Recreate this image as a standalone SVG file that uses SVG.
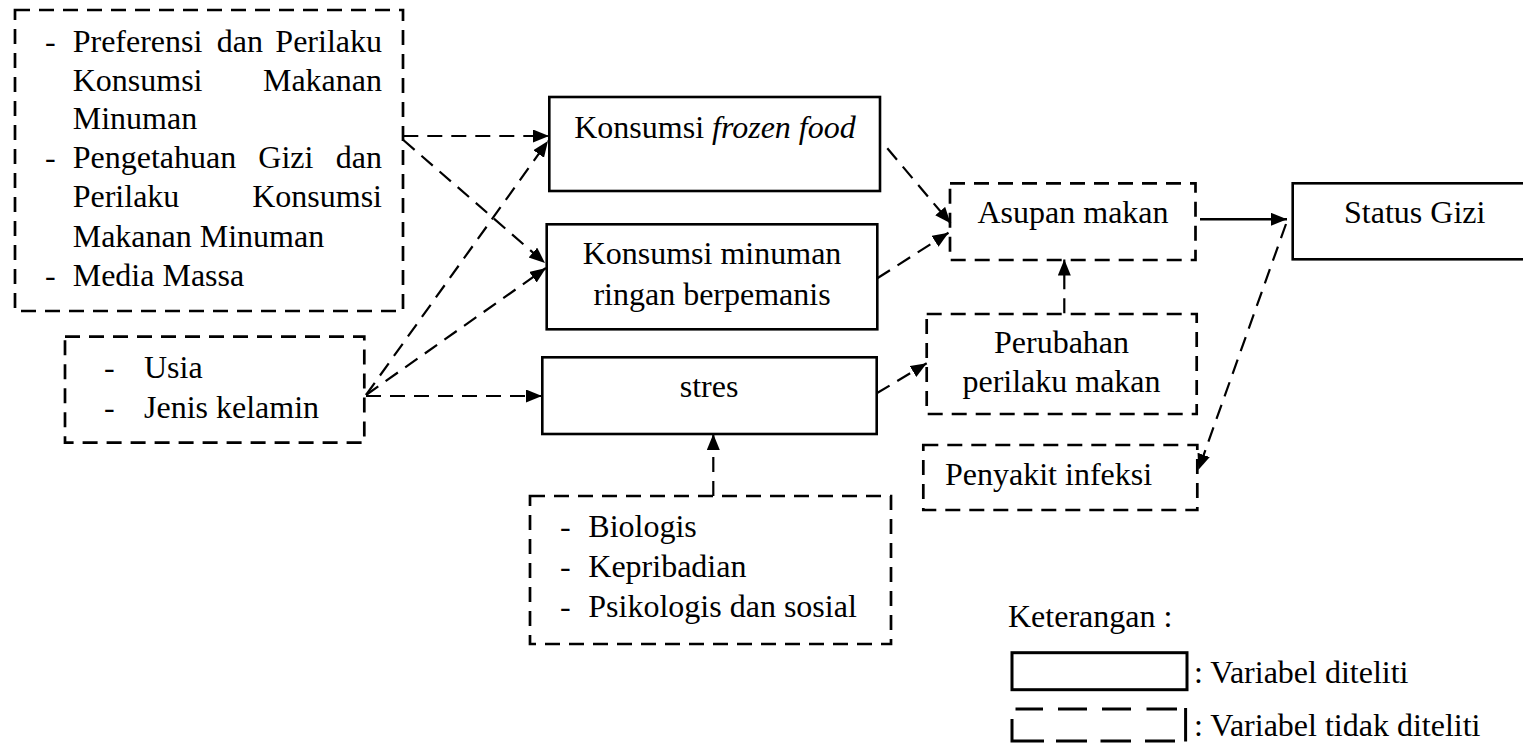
<svg xmlns="http://www.w3.org/2000/svg" width="1523" height="744" viewBox="0 0 1523 744">
<defs>
<style>
text{font-family:"Liberation Serif","Times New Roman",serif;font-size:32px;fill:#000}
.solid{fill:#fff;stroke:#000;stroke-width:2.6}
.dash{fill:#fff;stroke:#000;stroke-width:2.7;stroke-dasharray:15 9}
.c{fill:none;stroke:#000;stroke-width:2.2;stroke-dasharray:15 9}
.cs{fill:none;stroke:#000;stroke-width:2.4}
.m{text-anchor:middle}
.e{text-anchor:end}
</style>
<marker id="ah" markerUnits="userSpaceOnUse" markerWidth="17" markerHeight="14" refX="16" refY="6.5" orient="auto">
<path d="M0,0 L16,6.5 L0,13 z" fill="#000" stroke="none"/>
</marker>
</defs>

<g id="n-faktor">
<rect class="dash" x="15" y="10" width="388" height="301"/>
<text x="45" y="51.7">-</text><text x="72.7" y="51.7">Preferensi</text><text x="216.7" y="51.7">dan</text><text class="e" x="382" y="51.7">Perilaku</text>
<text x="72.7" y="90.7">Konsumsi</text><text class="e" x="382" y="90.7">Makanan</text>
<text x="72.7" y="129.3">Minuman</text>
<text x="45" y="168.3">-</text><text x="72.7" y="168.3">Pengetahuan</text><text x="258.3" y="168.3">Gizi</text><text class="e" x="382" y="168.3">dan</text>
<text x="72.7" y="207.3">Perilaku</text><text class="e" x="382" y="207.3">Konsumsi</text>
<text x="72.7" y="246.7">Makanan Minuman</text>
<text x="45" y="285.7">-</text><text x="72.7" y="285.7">Media Massa</text>
</g>

<g id="n-usia">
<rect class="dash" x="65" y="336.7" width="299.3" height="106"/>
<text x="104" y="378.3">-</text><text x="144" y="378.3">Usia</text>
<text x="104" y="418.3">-</text><text x="144" y="418.3">Jenis kelamin</text>
</g>

<g id="n-frozen">
<rect class="solid" x="549.3" y="97" width="330.7" height="94"/>
<text class="m" x="715" y="138.3">Konsumsi <tspan font-style="italic">frozen food</tspan></text>
</g>

<g id="n-minuman">
<rect class="solid" x="546.7" y="224.3" width="330.6" height="105"/>
<text class="m" x="712" y="264">Konsumsi minuman</text>
<text class="m" x="712" y="305">ringan berpemanis</text>
</g>

<g id="n-stres">
<rect class="solid" x="542.3" y="357.3" width="334.4" height="76.7"/>
<text class="m" x="709" y="396.7">stres</text>
</g>

<g id="n-biologis">
<rect class="dash" x="530" y="496" width="361" height="148"/>
<text x="560" y="536.7">-</text><text x="588.3" y="536.7">Biologis</text>
<text x="560" y="576.7">-</text><text x="588.3" y="576.7">Kepribadian</text>
<text x="560" y="616.7">-</text><text x="588.3" y="616.7">Psikologis dan sosial</text>
</g>

<g id="n-asupan">
<rect class="dash" x="950" y="183.3" width="245.5" height="76.7"/>
<text class="m" x="1073" y="223.3">Asupan makan</text>
</g>

<g id="n-perubahan">
<rect class="dash" x="926.7" y="314" width="270" height="100"/>
<text class="m" x="1061.5" y="353.3">Perubahan</text>
<text class="m" x="1061.5" y="391.7">perilaku makan</text>
</g>

<g id="n-penyakit">
<rect class="dash" x="923.3" y="445" width="274" height="65"/>
<text x="945" y="485">Penyakit infeksi</text>
</g>

<g id="n-status">
<rect class="solid" x="1292.7" y="183.3" width="240" height="76"/>
<text class="m" x="1414.7" y="223.3">Status Gizi</text>
</g>

<g id="connectors">
<line class="c" x1="403.3" y1="136" x2="549" y2="136" marker-end="url(#ah)"/>
<line class="c" x1="403.3" y1="140" x2="545" y2="263" marker-end="url(#ah)"/>
<line class="c" x1="366" y1="395" x2="548" y2="141" marker-end="url(#ah)"/>
<line class="c" x1="366" y1="395" x2="546" y2="268" marker-end="url(#ah)"/>
<line class="c" x1="366" y1="396" x2="542" y2="396" marker-end="url(#ah)"/>
<line class="c" x1="713.3" y1="496" x2="713.3" y2="434" marker-end="url(#ah)"/>
<line class="c" x1="887.3" y1="148.3" x2="950.5" y2="223.3" marker-end="url(#ah)"/>
<line class="c" x1="877.3" y1="278.3" x2="948.5" y2="232.7" marker-end="url(#ah)"/>
<line class="c" x1="876.7" y1="393.3" x2="926.7" y2="363.3" marker-end="url(#ah)"/>
<line class="c" x1="1064.3" y1="313.3" x2="1064.3" y2="259.5" marker-end="url(#ah)"/>
<line class="cs" x1="1200" y1="219.3" x2="1287" y2="219.3" marker-end="url(#ah)"/>
<line class="c" x1="1286" y1="224" x2="1198.3" y2="470" marker-end="url(#ah)"/>
</g>

<g id="legend">
<text x="1008" y="627">Keterangan :</text>
<rect x="1012" y="652.7" width="175" height="37" fill="#fff" stroke="#000" stroke-width="3"/>
<text x="1194" y="683">: Variabel diteliti</text>
<g stroke="#000" stroke-width="3" fill="none">
<line x1="1015.5" y1="709" x2="1043" y2="709"/>
<line x1="1058" y1="709" x2="1087" y2="709"/>
<line x1="1102" y1="709" x2="1131" y2="709"/>
<line x1="1146.5" y1="709" x2="1177" y2="709"/>
<path d="M1012,719 L1012,741 L1044,741"/>
<line x1="1056" y1="741" x2="1087" y2="741"/>
<line x1="1100.5" y1="741" x2="1131" y2="741"/>
<line x1="1145" y1="741" x2="1175" y2="741"/>
<line x1="1185.6" y1="708" x2="1185.6" y2="741.5"/>
</g>
<text x="1194" y="736">: Variabel tidak diteliti</text>
</g>
</svg>
